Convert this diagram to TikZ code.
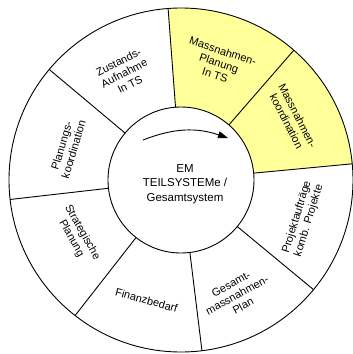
\documentclass[tikz,border=0pt]{standalone}
\usepackage{fontspec}
\setmainfont{Liberation Sans}
\usetikzlibrary{arrows.meta}
\definecolor{segyellow}{RGB}{255,255,153}
\begin{document}
\begin{tikzpicture}[x=1pt,y=1pt,
  ringline/.style={draw=black, line width=0.9pt},
  seglabel/.style={align=center, font=\fontsize{11}{12.5}\selectfont, inner sep=0pt},
  hub/.style={align=center, font=\fontsize{11.5}{14.5}\selectfont, inner sep=0pt},
  cycle arrow/.style={draw=black, line width=0.9pt, -{Triangle[length=10pt,width=7pt]}}]
\useasboundingbox (-181,-174) rectangle (172,180);
\def\ri{73}
\def\ro{172}
% highlighted sectors (planning of measures)
\fill[segyellow] (94.3:\ri) -- (94.3:\ro)
  arc[start angle=94.3, end angle=5.4, radius=\ro] -- (5.4:\ri)
  arc[start angle=5.4, end angle=94.3, radius=\ri] -- cycle;
% rings
\draw[ringline] (0,0) circle[radius=\ro];
\draw[ringline] (0,0) circle[radius=\ri];
% sector dividers
\foreach \a in {140,94.3,49,5.4,-39.6,-83,-128,186.5}
  \draw[ringline] (\a:\ri) -- (\a:\ro);
% hub
\node[hub] (hub) at (4,-4) {EM\\TEILSYSTEMe /\\Gesamtsystem};
\coordinate (turnA) at (-38,40);
\coordinate (turnB) at (47,42);
\draw[cycle arrow] (turnA) to[bend left=20] (turnB);
% sector labels
\node[seglabel, rotate=27.2]  (zust) at (118:121) {Zustands-\\Aufnahme\\In TS};
\node[seglabel, rotate=-18.3] (mplan) at (72:123) {Massnahmen-\\Planung\\In TS};
\node[seglabel, rotate=-62.8] (mkoord) at (29:127) {Massnahmen-\\koordination};
\node[seglabel, rotate=72.9]  (proj) at (-17.7:128) {Projektaufträge\\komb. Projekte};
\node[seglabel, rotate=28.7]  (gesamt) at (-64:128) {Gesamt-\\massnahmen-\\Plan};
\node[seglabel, rotate=-15.5] (finanz) at (-106:125) {Finanzbedarf};
\node[seglabel, rotate=-60.75] (strat) at (-152:118) {Strategische\\Planung};
\node[seglabel, rotate=73.25] (pkoord) at (164:118) {Planungs-\\koordination};
\end{tikzpicture}
\end{document}
